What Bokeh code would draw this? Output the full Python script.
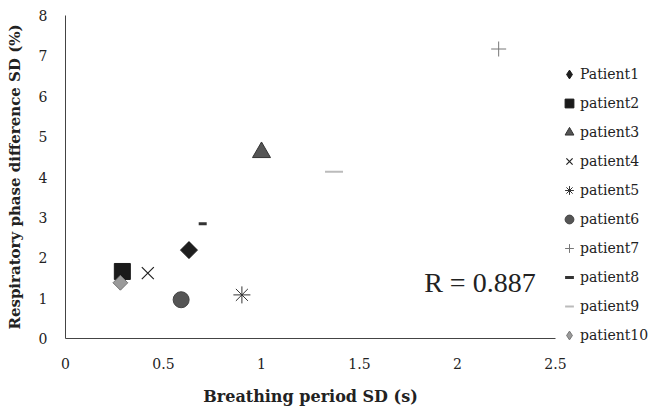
import math
from bokeh.plotting import figure
from bokeh.models import Range1d, Legend, LegendItem, Label, FixedTicker
from bokeh.embed import file_html
from bokeh.resources import INLINE

patients = ["Patient1", "patient2", "patient3", "patient4", "patient5",
            "patient6", "patient7", "patient8", "patient9", "patient10"]
period_sd = [0.63, 0.29, 1.00, 0.42, 0.90, 0.59, 2.21, 0.70, 1.37, 0.28]
phase_sd = [2.19, 1.66, 4.61, 1.62, 1.08, 0.96, 7.17, 2.84, 4.13, 1.38]
x_ticks = [0, 0.5, 1, 1.5, 2, 2.5]
y_ticks = [0, 1, 2, 3, 4, 5, 6, 7, 8]
r_text = "R = 0.887"

SERIF = "DejaVu Serif"

p = figure(frame_width=490, frame_height=323, output_backend="svg", toolbar_location=None,
           x_range=Range1d(0, 2.5), y_range=Range1d(0, 8),
           min_border_left=65, min_border_right=95, min_border_top=15,
           min_border_bottom=73)
p.outline_line_color = None
p.grid.visible = False
p.background_fill_color = "white"

for ax in (p.xaxis[0], p.yaxis[0]):
    ax.major_tick_line_color = None
    ax.minor_tick_line_color = None
    ax.axis_line_color = "#444444"
    ax.axis_line_width = 1
    ax.major_label_text_font = SERIF
    ax.major_label_text_font_size = "14px"
    ax.major_label_text_color = "#222222"
    ax.axis_label_text_font = SERIF
    ax.axis_label_text_font_style = "bold"
    ax.axis_label_text_color = "#222222"

p.xaxis.axis_label_text_font_size = "16px"
p.yaxis.axis_label_text_font_size = "15px"
p.xaxis.ticker = FixedTicker(ticks=x_ticks)
p.yaxis.ticker = FixedTicker(ticks=y_ticks)
p.xaxis.major_label_standoff = 13
p.yaxis.major_label_standoff = 12
p.xaxis.axis_label = "Breathing period SD (s)"
p.yaxis.axis_label = "Respiratory phase difference SD (%)"
p.xaxis.axis_label_standoff = 15
p.yaxis.axis_label_standoff = 12


def pt(i):
    return dict(x=[period_sd[i]], y=[phase_sd[i]])


items = []
r1 = p.scatter(marker="diamond", size=16, color="#1e1e1e", **pt(0))
p.scatter(marker="square", angle=math.pi / 4, size=12, color="#1e1e1e", **pt(0))
items.append(LegendItem(label=patients[0], renderers=[r1]))
r2 = p.scatter(marker="square", size=16, color="#1a1a1a", **pt(1))
items.append(LegendItem(label=patients[1], renderers=[r2]))
r3 = p.scatter(marker="triangle", size=18, fill_color="#555555", line_color="#333333", **pt(2))
items.append(LegendItem(label=patients[2], renderers=[r3]))
r4 = p.scatter(marker="x", size=17, line_color="#222222", line_width=1.2, **pt(3))
items.append(LegendItem(label=patients[3], renderers=[r4]))
r5 = p.scatter(marker="asterisk", size=17, line_color="#333333", line_width=1, **pt(4))
items.append(LegendItem(label=patients[4], renderers=[r5]))
r6 = p.scatter(marker="circle", size=16, fill_color="#555555", line_color="#444444", **pt(5))
items.append(LegendItem(label=patients[5], renderers=[r6]))
r7 = p.scatter(marker="cross", size=15, line_color="#777777", line_width=1, **pt(6))
items.append(LegendItem(label=patients[6], renderers=[r7]))
r8 = p.scatter(marker="dash", size=8, line_color="#333333", line_width=3, **pt(7))
items.append(LegendItem(label=patients[7], renderers=[r8]))
r9 = p.scatter(marker="dash", size=18, line_color="#bbbbbb", line_width=2, **pt(8))
items.append(LegendItem(label=patients[8], renderers=[r9]))
r10 = p.scatter(marker="diamond", size=14, fill_color="#9a9a9a", line_color="#777777", **pt(9))
p.scatter(marker="square", angle=math.pi / 4, size=10.5, fill_color="#9a9a9a",
          line_color="#777777", **pt(9))
items.append(LegendItem(label=patients[9], renderers=[r10]))

legend = Legend(items=items, location=(3, -8), orientation="vertical",
                glyph_width=22, glyph_height=22, label_height=22, spacing=7,
                padding=0, margin=0, label_standoff=-3,
                label_text_font=SERIF, label_text_font_size="14px",
                label_text_color="#222222",
                background_fill_alpha=0, border_line_color=None)
p.add_layout(legend, "right")

p.add_layout(Label(x=1.83, y=1.39, text=r_text, text_font="Liberation Serif",
                   text_font_size="28px", text_color="#222222",
                   text_baseline="middle", text_align="left"))

open("out.html", "w").write(file_html(p, INLINE))
